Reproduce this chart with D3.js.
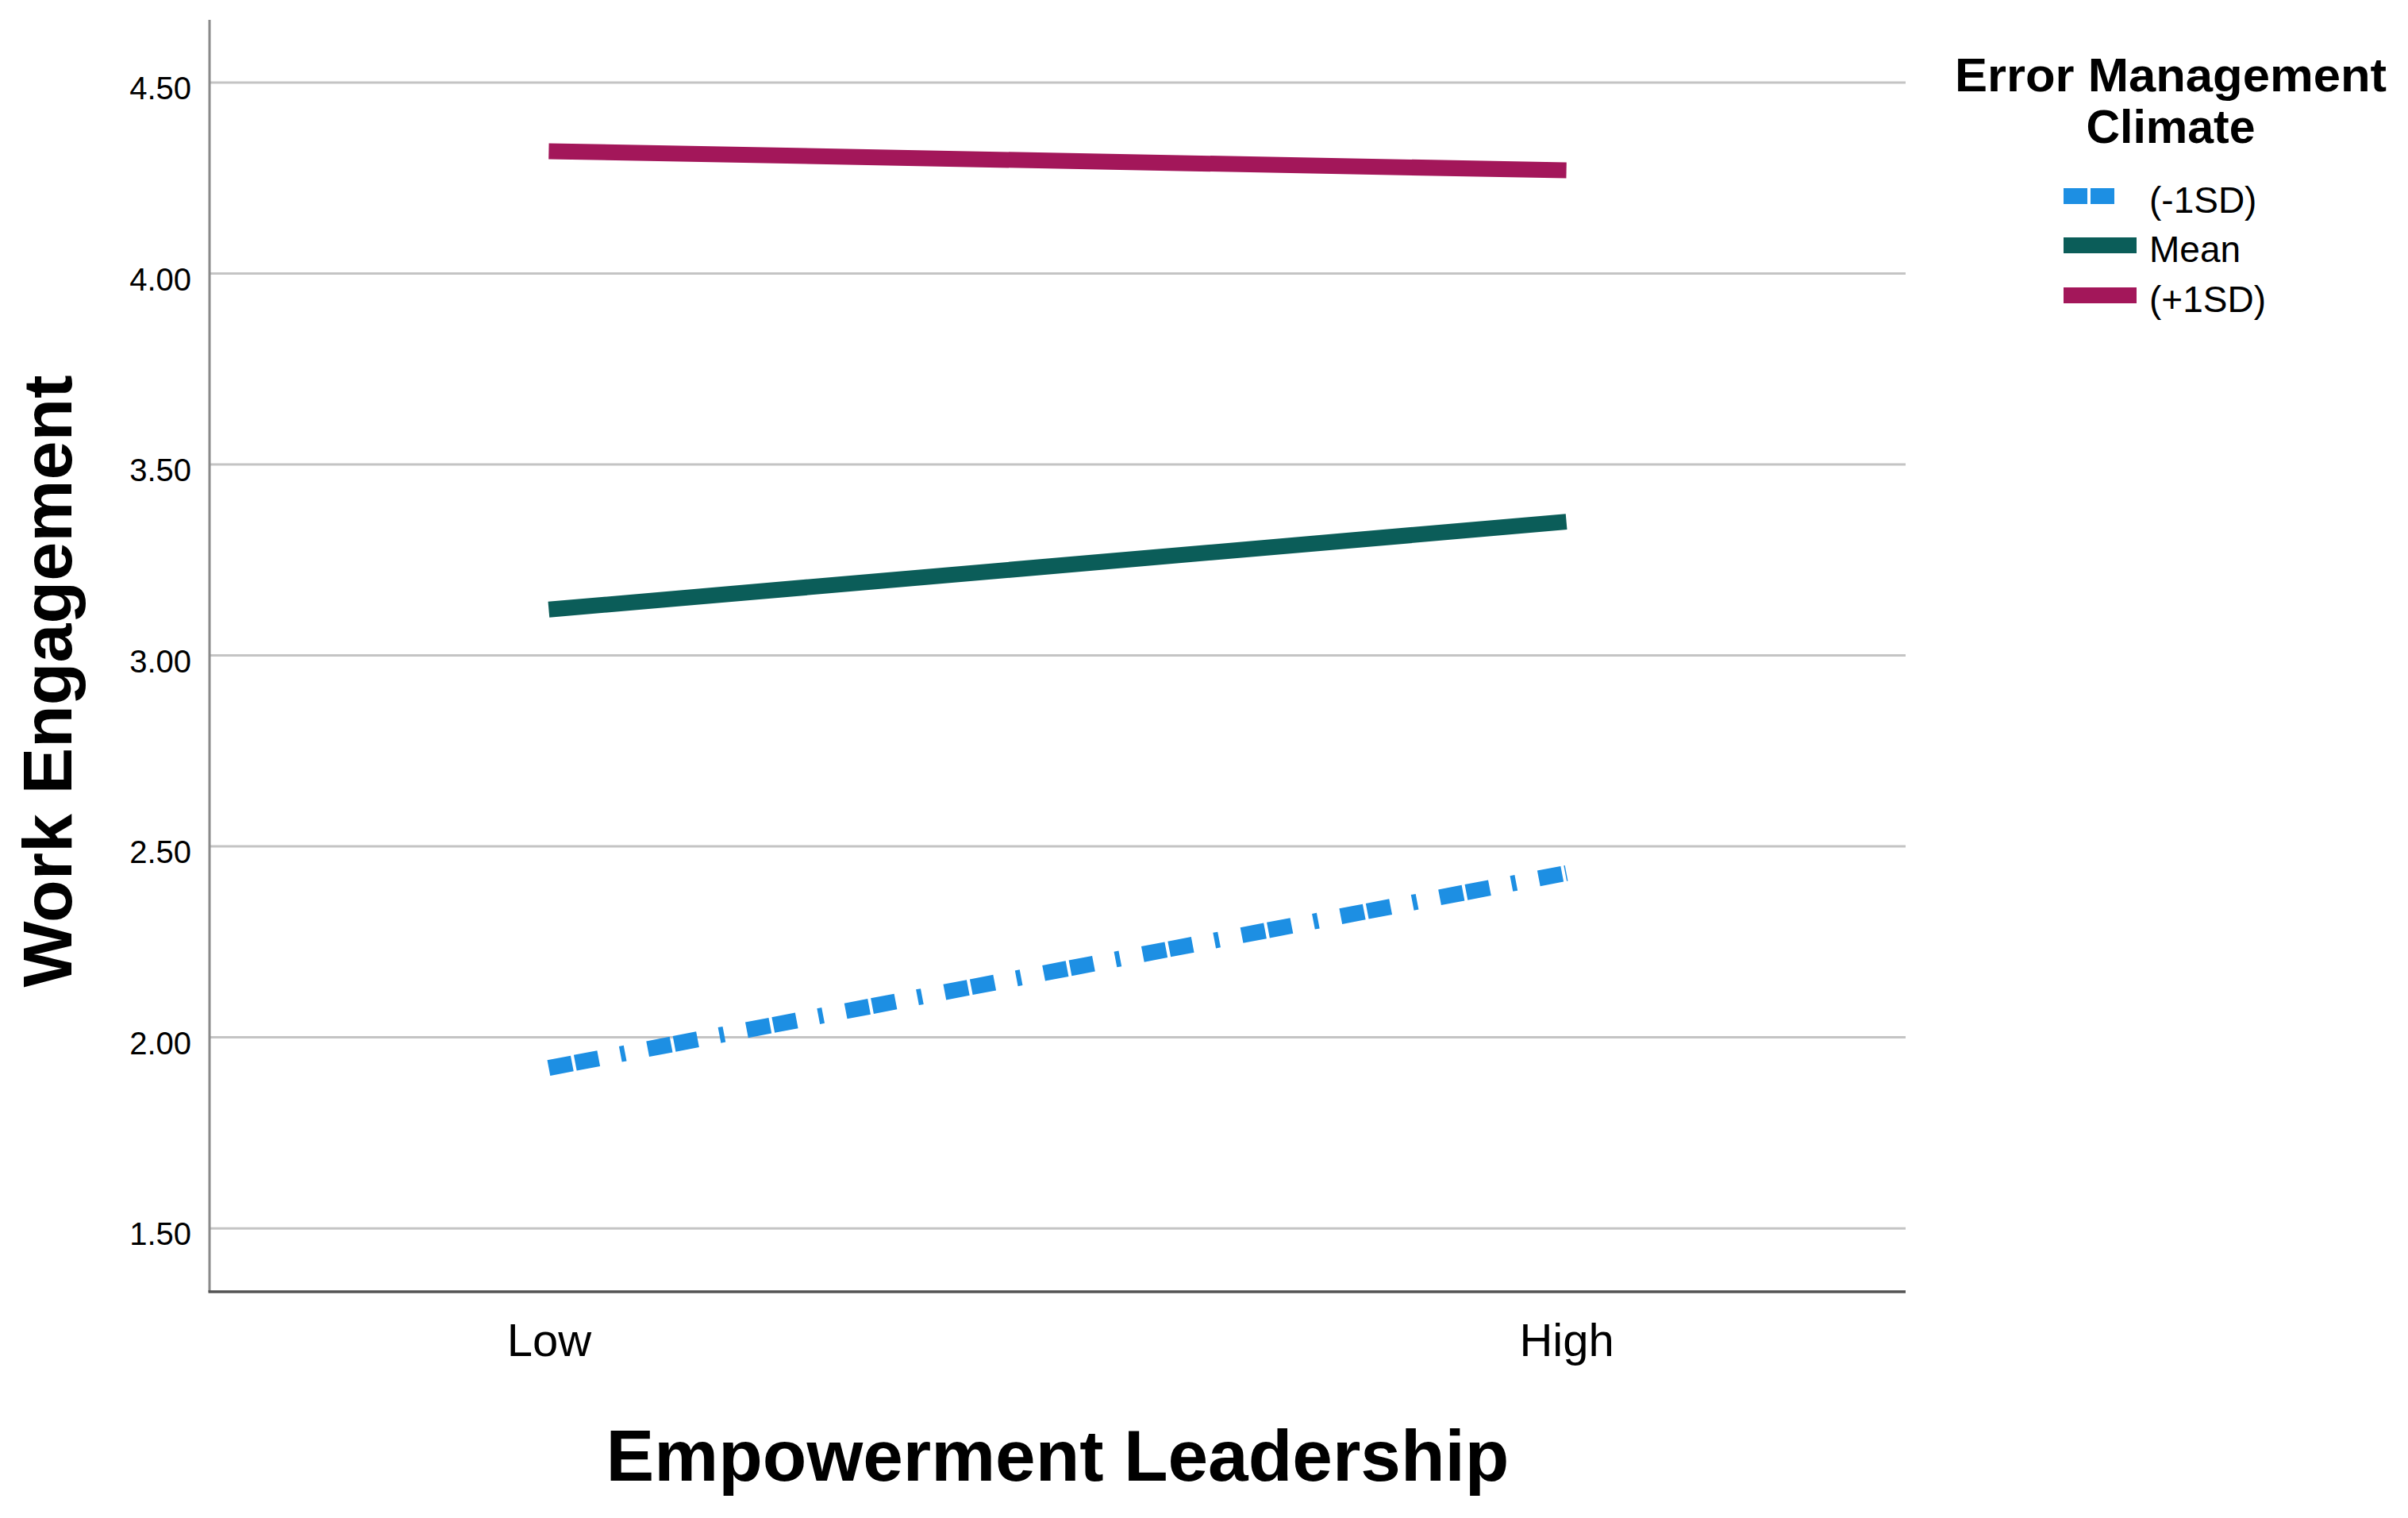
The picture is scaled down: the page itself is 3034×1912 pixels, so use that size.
<!DOCTYPE html>
<html>
<head>
<meta charset="utf-8">
<script src="https://cdn.jsdelivr.net/npm/d3@7"></script>
<style>
  html, body { margin: 0; padding: 0; background: #ffffff; }
  svg { display: block; }
  text { font-family: "Liberation Sans", Arial, sans-serif; fill: #000; }
</style>
</head>
<body>
<svg id="chart" width="3034" height="1912"></svg>
<script>
// ---- data ----
const categories = ["Low", "High"];
const seriesNames = ["(-1SD)", "Mean", "(+1SD)"];
const minus1SD = [1.92, 2.43];
const meanVals = [3.12, 3.35];
const plus1SD = [4.32, 4.27];
const yTicks = [1.50, 2.00, 2.50, 3.00, 3.50, 4.00, 4.50];
const legendTitle = ["Error Management", "Climate"];
const xTitle = "Empowerment Leadership";
const yTitle = "Work Engagement";

const seriesColors = ["#1d8fe3", "#0b5d59", "#a3175a"];
const seriesDash = ["30,4,30,28,6,29", null, null];

const series = [
  { name: seriesNames[0], values: minus1SD, color: seriesColors[0], dash: seriesDash[0] },
  { name: seriesNames[1], values: meanVals, color: seriesColors[1], dash: seriesDash[1] },
  { name: seriesNames[2], values: plus1SD, color: seriesColors[2], dash: seriesDash[2] }
];

(function () {
// ---- layout ----
const svg = d3.select("#chart");
const pLeft = 264, pRight = 2401, pTop = 25, pBottom = 1627;

const x = d3.scalePoint().domain(categories).range([pLeft, pRight]).padding(1/3);
const y = d3.scaleLinear().domain([1.334, 4.664]).range([pBottom, pTop]);

// gridlines
svg.append("g").selectAll("line").data(yTicks).join("line")
  .attr("x1", pLeft).attr("x2", pRight)
  .attr("y1", d => y(d)).attr("y2", d => y(d))
  .attr("stroke", "#c4c4c4").attr("stroke-width", 3);

// y axis (labels only, no ticks)
const yAxis = d3.axisLeft(y).tickValues(yTicks).tickFormat(d3.format(".2f")).tickSize(0).tickPadding(23);
const gy = svg.append("g").attr("transform", `translate(${pLeft},0)`).call(yAxis);
gy.select(".domain").remove();
gy.selectAll("text")
  .attr("font-family", "Liberation Sans, Arial, sans-serif")
  .attr("font-size", 40).attr("fill", "#111").attr("dy", "0.52em");

// x axis
const xAxis = d3.axisBottom(x).tickSize(0).tickPadding(40);
const gx = svg.append("g").attr("transform", `translate(0,${pBottom})`).call(xAxis);
gx.select(".domain").remove();
gx.selectAll("text")
  .attr("font-family", "Liberation Sans, Arial, sans-serif")
  .attr("font-size", 58).attr("fill", "#111")
  .attr("dy", "0.71em");

// axis lines
svg.append("line").attr("x1", pLeft).attr("x2", pLeft).attr("y1", pTop).attr("y2", pBottom)
  .attr("stroke", "#8a8a8a").attr("stroke-width", 3);
svg.append("line").attr("x1", pLeft - 1.5).attr("x2", pRight).attr("y1", pBottom).attr("y2", pBottom)
  .attr("stroke", "#555").attr("stroke-width", 3.5);

// series lines
const line = d3.line().x((d, i) => x(categories[i])).y(d => y(d));
svg.append("g").selectAll("path").data(series).join("path")
  .attr("d", d => line(d.values))
  .attr("fill", "none")
  .attr("stroke", d => d.color)
  .attr("stroke-width", 20)
  .attr("stroke-linecap", "butt")
  .attr("stroke-dasharray", d => d.dash);

// axis titles
svg.append("text")
  .attr("x", (pLeft + pRight) / 2).attr("y", 1865)
  .attr("text-anchor", "middle")
  .attr("font-size", 91).attr("font-weight", "bold")
  .text(xTitle);

svg.append("text")
  .attr("transform", `translate(90,858) rotate(-90)`)
  .attr("text-anchor", "middle")
  .attr("font-size", 88).attr("font-weight", "bold")
  .text(yTitle);

// legend
const lg = svg.append("g");
lg.selectAll("text.title").data(legendTitle).join("text")
  .attr("class", "title")
  .attr("x", 2735).attr("y", (d, i) => 115 + i * 65)
  .attr("text-anchor", "middle")
  .attr("font-size", 59).attr("font-weight", "bold")
  .attr("textLength", (d, i) => i === 0 ? 544 : null)
  .attr("lengthAdjust", "spacingAndGlyphs")
  .text(d => d);

const legendY = [247, 309, 372];
const items = lg.selectAll("g.item").data(series).join("g").attr("class", "item")
  .attr("transform", (d, i) => `translate(0,${legendY[i]})`);
items.append("line")
  .attr("x1", 2600).attr("x2", d => d.dash ? 2667 : 2692)
  .attr("y1", 0).attr("y2", 0)
  .attr("stroke", d => d.color).attr("stroke-width", 20)
  .attr("stroke-dasharray", d => d.dash);
items.append("text")
  .attr("x", 2708).attr("y", 21)
  .attr("font-size", 46).attr("fill", "#111")
  .text(d => d.name);
})();
</script>
</body>
</html>
